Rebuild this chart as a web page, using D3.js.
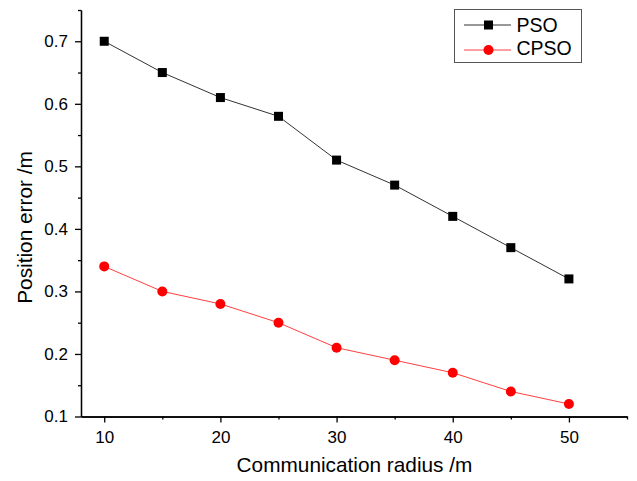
<!DOCTYPE html>
<html><head><meta charset="utf-8">
<script src="https://cdn.jsdelivr.net/npm/d3@7"></script>
<style>body{margin:0;background:#fff}svg{display:block;font-family:"Liberation Sans",Arial,sans-serif}</style>
</head><body>
<svg id="c" width="637" height="481"></svg>
<script>
const radius = [10, 15, 20, 25, 30, 35, 40, 45, 50];
const pso = [0.70, 0.65, 0.61, 0.58, 0.51, 0.47, 0.42, 0.37, 0.32];
const cpso = [0.34, 0.30, 0.28, 0.25, 0.21, 0.19, 0.17, 0.14, 0.12];
const xTicks = [10, 20, 30, 40, 50];
const yTicks = [0.1, 0.2, 0.3, 0.4, 0.5, 0.6, 0.7];
const xMinor = [15, 25, 35, 45, 55];
const yMinor = [0.15, 0.25, 0.35, 0.45, 0.55, 0.65, 0.75];

const svg = d3.select("#c");
const x = d3.scaleLinear().domain([8, 55]).range([81, 627]);
const y = d3.scaleLinear().domain([0.1, 0.75]).range([416.5, 10]);
const FF = "Liberation Sans, Arial, sans-serif";

const gx = svg.append("g").attr("transform", "translate(0,416.5)");
gx.call(d3.axisBottom(x).tickValues(xTicks).tickSize(6).tickSizeOuter(0).tickPadding(8.5).tickFormat(d3.format("d")));
gx.append("g").call(d3.axisBottom(x).tickValues(xMinor).tickSize(3).tickSizeOuter(0).tickFormat(""));
gx.selectAll("path.domain").attr("stroke", "#000").attr("stroke-width", 1.3);
gx.selectAll("text").style("font-size", "17px").attr("fill", "#000").style("font-family", FF);
gx.selectAll("line").attr("stroke-width", 1.3);

const gy = svg.append("g").attr("transform", "translate(81,0)");
gy.call(d3.axisLeft(y).tickValues(yTicks).tickSize(6).tickSizeOuter(0).tickPadding(7).tickFormat(d3.format(".1f")));
gy.append("g").call(d3.axisLeft(y).tickValues(yMinor).tickSize(3).tickSizeOuter(0).tickFormat(""));
gy.selectAll("path.domain").attr("stroke", "#000").attr("stroke-width", 1.3);
gy.selectAll("text").style("font-size", "17px").attr("fill", "#000").style("font-family", FF);
gy.selectAll("line").attr("stroke-width", 1.3);

// axis titles
svg.append("text").attr("x", 354.5).attr("y", 472).attr("text-anchor", "middle")
  .style("font-size", "20.8px").style("font-family", FF).text("Communication radius /m");
svg.append("text").attr("transform", "translate(31.5,227.5) rotate(-90)").attr("text-anchor", "middle")
  .style("font-size", "20.8px").style("font-family", FF).text("Position error /m");

const line = d3.line().x((d, i) => x(radius[i])).y(d => y(d));

svg.append("path").datum(pso).attr("d", line).attr("fill", "none").attr("stroke", "#333").attr("stroke-width", 1);
svg.append("path").datum(cpso).attr("d", line).attr("fill", "none").attr("stroke", "#ff4040").attr("stroke-width", 1);

svg.selectAll("rect.pso").data(pso).enter().append("rect").attr("class", "pso")
  .attr("x", (d, i) => x(radius[i]) - 4.5).attr("y", d => y(d) - 4.5)
  .attr("width", 9).attr("height", 9).attr("fill", "#000");
svg.selectAll("circle.cpso").data(cpso).enter().append("circle").attr("class", "cpso")
  .attr("cx", (d, i) => x(radius[i])).attr("cy", d => y(d)).attr("r", 5).attr("fill", "#ff0000");

// legend
const lg = svg.append("g");
lg.append("rect").attr("x", 454.5).attr("y", 9.5).attr("width", 127).attr("height", 53)
  .attr("fill", "#fff").attr("stroke", "#555").attr("stroke-width", 1);
lg.append("line").attr("x1", 464).attr("x2", 511).attr("y1", 25).attr("y2", 25).attr("stroke", "#333").attr("stroke-width", 1);
lg.append("rect").attr("x", 484).attr("y", 20.5).attr("width", 9).attr("height", 9).attr("fill", "#000");
lg.append("line").attr("x1", 464).attr("x2", 511).attr("y1", 50).attr("y2", 50).attr("stroke", "#ff4040").attr("stroke-width", 1);
lg.append("circle").attr("cx", 488.5).attr("cy", 50).attr("r", 5).attr("fill", "#ff0000");
lg.append("text").attr("x", 516.5).attr("y", 31.5).style("font-size", "19.5px").style("font-family", FF).text("PSO");
lg.append("text").attr("x", 516.5).attr("y", 55).style("font-size", "19.5px").style("font-family", FF).text("CPSO");
</script>
</body></html>
